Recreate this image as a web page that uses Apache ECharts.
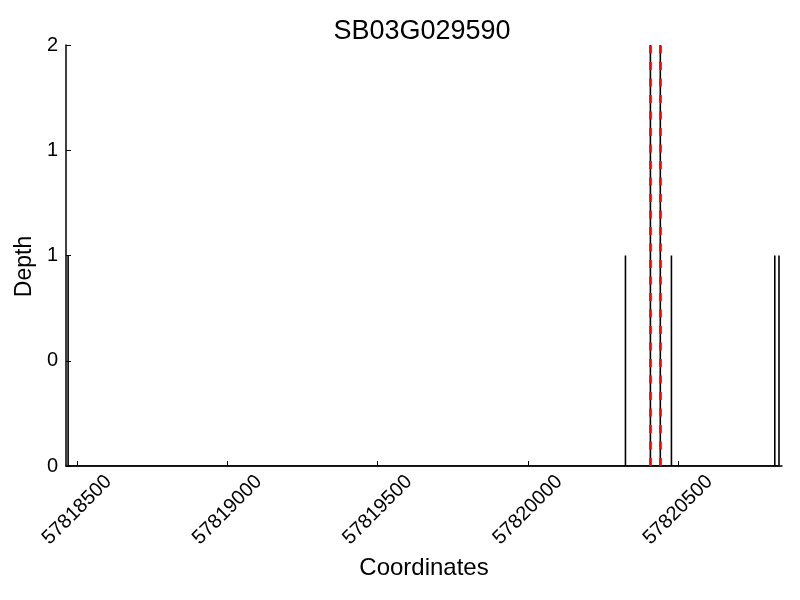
<!DOCTYPE html>
<html><head><meta charset="utf-8">
<script src="https://cdn.jsdelivr.net/npm/echarts@6/dist/echarts.min.js"></script>
<style>html,body{margin:0;padding:0;background:#fff}#c{width:800px;height:600px}</style>
</head><body><div id="c"></div>
<script>
const titleText = 'SB03G029590';
const xMin = 57818463, xMax = 57820846;
const xTicks = [57818500, 57819000, 57819500, 57820000, 57820500];
const yTicks = [0, 0.5, 1, 1.5, 2];
const spikePos = [57818470, 57820325, 57820408, 57820441, 57820478, 57820822, 57820836];
const spikeDepth = [1, 1, 2, 2, 1, 1, 1];
const markerPos = [57820408, 57820441];

const lineData = [];
spikePos.forEach((p, i) => { lineData.push([p, 0], [p, spikeDepth[i]], [p, 0]); });

const FONT = 'Liberation Sans';
const chart = echarts.init(document.getElementById('c'), null, {renderer: 'canvas'});
chart.setOption({
  animation: false,
  backgroundColor: '#fff',
  title: {text: titleText, left: 417, top: 13, textAlign: 'center',
    textStyle: {fontFamily: FONT, fontSize: 27, fontWeight: 'normal', color: '#000'}},
  grid: {left: 66, right: 18, top: 45, bottom: 134, outerBoundsMode: 'none', containLabel: false},
  xAxis: {type: 'value', min: xMin, max: xMax,
    name: 'Coordinates', nameLocation: 'middle', nameGap: 90, nameMoveOverlap: false,
    nameTextStyle: {fontFamily: FONT, fontSize: 24, color: '#000'},
    axisLine: {show: true, lineStyle: {color: '#000', width: 1.5}},
    axisTick: {show: true, inside: true, length: 5, customValues: xTicks, lineStyle: {color: '#000', width: 1}},
    axisLabel: {customValues: xTicks, rotate: 45, align: 'center', verticalAlign: 'middle', margin: 44,
      fontFamily: FONT, fontSize: 20, color: '#000', formatter: v => String(v)},
    splitLine: {show: false}},
  yAxis: {type: 'value', min: 0, max: 2, interval: 0.5,
    name: 'Depth', nameLocation: 'middle', nameGap: 30, nameMoveOverlap: false,
    nameTextStyle: {fontFamily: FONT, fontSize: 23, color: '#000', padding: [0, 22, 0, 0]},
    axisLine: {show: true, lineStyle: {color: '#000', width: 1.5}},
    axisTick: {show: true, inside: true, length: 5, lineStyle: {color: '#000', width: 1}},
    axisLabel: {margin: 8, fontFamily: FONT, fontSize: 20, color: '#000', formatter: v => String(Math.floor(v))},
    splitLine: {show: false}},
  series: [
    {type: 'line', data: lineData, showSymbol: false, symbol: 'none', z: 2,
      lineStyle: {color: '#000', width: 1.6}},
    {type: 'line', data: [], z: 5,
      markLine: {silent: true, symbol: 'none', label: {show: false},
        lineStyle: {color: '#ff0000', width: 2.6, type: [8, 8.5]},
        data: markerPos.map(p => ({xAxis: p}))}}
  ]
});
</script></body></html>
